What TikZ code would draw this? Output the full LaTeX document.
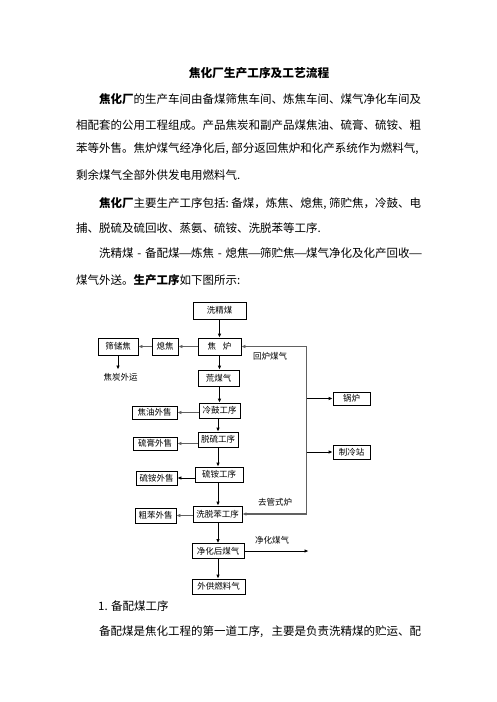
\documentclass[tikz,border=0pt]{standalone}
\usepackage{fontspec}
\setmainfont{Noto Sans CJK SC}
\usetikzlibrary{arrows.meta}
\newcommand{\hw}[1]{\makebox[0.5em][l]{#1}}
\newcommand{\fw}[1]{\makebox[1em][c]{#1}}
\newcommand{\fwl}[1]{\makebox[1em][l]{#1}}
\newcommand{\fdash}{\makebox[1em][c]{\scalebox{1.35}[1]{—}}}
\tikzset{
  body/.style={anchor=west, inner sep=0pt, font=\fontsize{11.5}{14}\selectfont},
  ttl/.style={inner sep=0pt, font=\fontsize{11.7}{14}\selectfont\bfseries},
  box/.style={draw, line width=0.8pt, inner sep=0pt, font=\fontsize{8.5}{10}\selectfont},
  lbl/.style={inner sep=0pt, font=\fontsize{8.5}{10}\selectfont},
  arr/.style={-{Latex[length=4pt,width=3.6pt]}, line width=0.9pt, black},
  garr/.style={-{Latex[length=4pt,width=3.6pt]}, line width=1.3pt, black!62},
  gline/.style={line width=1.3pt, black!62}
}
\begin{document}
\begin{tikzpicture}[x=1pt,y=-1pt]
\useasboundingbox (0,0) rectangle (496,702);
% title and text
\node[ttl] (title) at (259,73) {焦化厂生产工序及工艺流程};
\node[body] (l1) at (99,99) {\textbf{焦化厂}的生产车间由备煤筛焦车间、炼焦车间、煤气净化车间及};
\node[body] (l2) at (76,125) {相配套的公用工程组成。产品焦炭和副产品煤焦油、硫膏、硫铵、粗};
\node[body] (l3) at (76,148.5) {苯等外售。焦炉煤气经净化后\hw{,}部分返回焦炉和化产系统作为燃料气\hw{,}};
\node[body] (l4) at (76,175) {剩余煤气全部外供发电用燃料气.};
\node[body] (l5) at (99,204) {\textbf{焦化厂}主要生产工序包括\hw{:}备煤，炼焦、熄焦\hw{,}筛贮焦，冷鼓、电};
\node[body] (l6) at (76,228.5) {捕、脱硫及硫回收、蒸氨、硫铵、洗脱苯等工序.};
\node[body] (l7) at (99,253) {洗精煤\fw{-}备配煤\fdash{}炼焦\fw{-}熄焦\fdash{}筛贮焦\fdash{}煤气净化及化产回收\fdash};
\node[body] (l8) at (76,280) {煤气外送。\textbf{生产工序}如下图所示\hw{:}};
% diagram boxes
\node[box, minimum width=53pt, minimum height=17pt] (jjm) at (219.5,310.5) {洗精煤};
\node[box, minimum width=43pt, minimum height=17pt] (jl) at (219.5,346.5) {焦\hspace{7pt}炉};
\node[box, minimum width=26pt, minimum height=17pt] (xj) at (165,346.5) {熄焦};
\node[box, minimum width=40pt, minimum height=17pt] (scj) at (118,346.5) {筛储焦};
\node[lbl] (jtwy) at (120.5,377) {焦炭外运};
\coordinate (jtend) at (118,369.5);
\node[box, minimum width=41pt, minimum height=16pt] (hmq) at (218.5,378) {荒煤气};
\node[box, minimum width=41pt, minimum height=15pt] (lg) at (219.5,410.5) {冷鼓工序};
\node[box, minimum width=45pt, minimum height=13pt] (jy) at (154.5,412.5) {焦油外售};
\node[box, minimum width=40pt, minimum height=15pt] (tl) at (218,439.5) {脱硫工序};
\node[box, minimum width=44pt, minimum height=13pt] (lgs) at (155,443.5) {硫膏外售};
\node[box, minimum width=48pt, minimum height=15pt] (la) at (219,474.5) {硫铵工序};
\node[box, minimum width=41pt, minimum height=14pt] (las) at (156.5,478) {硫铵外售};
\node[box, minimum width=49pt, minimum height=16pt] (xtb) at (217.5,514) {洗脱苯工序};
\node[box, minimum width=41pt, minimum height=15pt] (cb) at (155.5,515.5) {粗苯外售};
\node[box, minimum width=52pt, minimum height=15pt] (jhh) at (218,551) {净化后煤气};
\node[box, minimum width=53pt, minimum height=15pt] (wg) at (218.5,586.5) {外供燃料气};
\node[box, minimum width=37pt, minimum height=13pt] (gl) at (351.5,398.5) {锅炉};
\node[box, minimum width=37pt, minimum height=14pt] (zl) at (351.5,452) {制冷站};
% labels
\node[lbl] (hlmq) at (270,356) {回炉煤气};
\node[lbl] (qgsl) at (275,502) {去管式炉};
\node[lbl] (jhmq) at (272,540.5) {净化煤气};
% vertical main chain
\draw[arr] (jjm.south -| jl.south) -- (jl.north);
\draw[arr] (jl.south) -- (jl.south |- hmq.north);
\draw[arr] (jl.south |- hmq.south) -- (jl.south |- lg.north);
\draw[arr] (tl.north |- lg.south) -- (tl.north);
\draw[arr] (tl.south) -- (tl.south |- la.north);
\draw[arr] (tl.south |- la.south) -- (tl.south |- xtb.north);
\draw[arr] (tl.south |- xtb.south) -- (tl.south |- jhh.north);
\draw[arr] (tl.south |- jhh.south) -- (tl.south |- wg.north);
% side products
\draw[garr] (jl.west) -- (xj.east);
\draw[garr] (xj.west) -- (scj.east);
\draw[arr] (scj.south) -- (jtend);
\draw[garr] (jy.east -| lg.west) -- (jy.east);
\draw[garr] (lgs.east -| tl.west) -- (lgs.east);
\draw[arr] (las.east -| la.west) -- (las.east);
\draw[garr] (cb.east -| xtb.west) -- (cb.east);
% return gas manifold
\coordinate (vt) at (306.7,346.5);
\coordinate (vb) at (306.7,514);
\draw[gline] (vt) -- (vb);
\draw[garr] (vt) -- (jl.east);
\draw[garr] (vb) -- (xtb.east);
\draw[arr] (vt |- gl.west) -- (gl.west);
\draw[arr] (vt |- zl.west) -- (zl.west);
% purified gas out
\coordinate (jend) at (308.5,551);
\draw[arr] (jhh.east) -- (jend);
% following text
\node[body] (s1) at (98,606) {1. 备配煤工序};
\node[body] (s2) at (99,631.5) {备配煤是焦化工程的第一道工序\fwl{,}主要是负责洗精煤的贮运、配};
\end{tikzpicture}
\end{document}
